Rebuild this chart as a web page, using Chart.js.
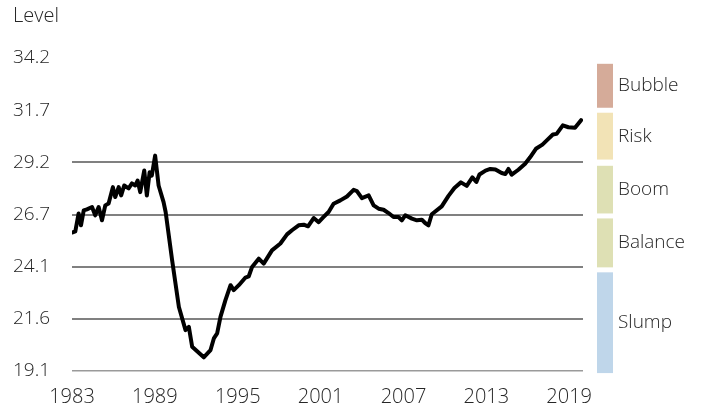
<!DOCTYPE html>
<html>
<head>
<meta charset="utf-8">
<script src="https://cdn.jsdelivr.net/npm/chart.js@4/dist/chart.umd.min.js"></script>
<style>
  html, body { margin: 0; padding: 0; background: #fff; }
  #wrap { width: 706px; height: 410px; }
</style>
</head>
<body>
<div id="wrap"><canvas id="chart"></canvas></div>
<script>
// values
const years = [
  1983.00, 1983.24, 1983.48, 1983.65, 1983.85, 1984.08, 1984.45, 1984.68, 1984.93, 1985.17,
  1985.41, 1985.65, 1985.96, 1986.13, 1986.38, 1986.56, 1986.78, 1987.10, 1987.34, 1987.58,
  1987.75, 1987.94, 1988.23, 1988.42, 1988.62, 1988.78, 1989.02, 1989.27, 1989.63, 1989.78,
  1990.25, 1990.74, 1991.22, 1991.46, 1991.70, 1992.54, 1993.03, 1993.27, 1993.51, 1993.75,
  1994.11, 1994.48, 1994.71, 1995.08, 1995.56, 1995.80, 1996.04, 1996.52, 1996.88, 1997.48,
  1998.09, 1998.57, 1998.93, 1999.41, 1999.78, 2000.09, 2000.50, 2000.86, 2001.22, 2001.58,
  2001.94, 2002.43, 2002.91, 2003.39, 2003.63, 2003.99, 2004.48, 2004.84, 2005.20, 2005.56,
  2005.92, 2006.28, 2006.64, 2006.88, 2007.13, 2007.61, 2007.97, 2008.33, 2008.57, 2008.81,
  2009.05, 2009.77, 2010.26, 2010.69, 2011.16, 2011.58, 2011.99, 2012.28, 2012.50, 2012.94,
  2013.29, 2013.66, 2014.11, 2014.38, 2014.60, 2014.84, 2015.32, 2015.81, 2016.17, 2016.59,
  2017.06, 2017.49, 2017.82, 2018.09, 2018.54, 2018.94, 2019.42, 2019.86
];
const levels = [
  25.78, 25.84, 26.70, 26.13, 26.85, 26.90, 27.01, 26.61, 27.01, 26.37,
  27.09, 27.18, 27.97, 27.49, 27.97, 27.57, 28.05, 27.91, 28.15, 28.05,
  28.29, 27.73, 28.77, 27.57, 28.69, 28.53, 29.49, 28.05, 27.25, 26.77,
  24.44, 22.19, 21.07, 21.23, 20.27, 19.76, 20.11, 20.67, 20.91, 21.71,
  22.52, 23.24, 23.00, 23.24, 23.61, 23.67, 24.12, 24.52, 24.28, 24.92,
  25.25, 25.69, 25.89, 26.13, 26.16, 26.08, 26.48, 26.28, 26.53, 26.77,
  27.17, 27.33, 27.52, 27.84, 27.78, 27.44, 27.57, 27.09, 26.93, 26.88,
  26.72, 26.53, 26.53, 26.37, 26.61, 26.45, 26.37, 26.40, 26.24, 26.13,
  26.66, 27.04, 27.55, 27.93, 28.20, 28.03, 28.44, 28.22, 28.58, 28.77,
  28.85, 28.82, 28.65, 28.60, 28.85, 28.57, 28.81, 29.10, 29.41, 29.82,
  30.02, 30.30, 30.51, 30.54, 30.95, 30.86, 30.83, 31.20
];

const xTickYears = [1983, 1989, 1995, 2001, 2007, 2013, 2019];
const yTickLabels = ['19.1', '21.6', '24.1', '26.7', '29.2', '31.7', '34.2'];

const bandLabels = ['Slump', 'Balance', 'Boom', 'Risk', 'Bubble'];
const bandLow = [19.0, 24.1, 26.7, 29.3, 31.8];
const bandHigh = [23.86, 26.46, 29.0, 31.56, 33.92];
const bandColors = ['#bfd6ea', '#dee0b4', '#dee0b4', '#f2e3b6', '#d5ab99'];

const yMin = 19.1, yMax = 34.2;
const FONT = '"Open Sans", "Noto Sans", sans-serif';
const TXT = '#262626';

// legend-like side bands, placed with the y scale
const bandsPlugin = {
  id: 'bands',
  afterDraw(chart) {
    const ctx = chart.ctx, y = chart.scales.y;
    ctx.save();
    ctx.font = '300 19px ' + FONT;
    ctx.textBaseline = 'middle';
    ctx.textAlign = 'left';
    bandLabels.forEach((lab, i) => {
      const top = y.getPixelForValue(bandHigh[i]);
      const bot = y.getPixelForValue(bandLow[i]);
      ctx.fillStyle = bandColors[i];
      ctx.fillRect(597, top, 16, bot - top);
      ctx.fillStyle = TXT;
      ctx.fillText(lab, 618, (top + bot) / 2);
    });
    ctx.restore();
  }
};

const ctx = document.getElementById('chart').getContext('2d');
new Chart(ctx, {
  type: 'line',
  data: {
    datasets: [{
      label: 'Level',
      data: years.map((yr, i) => ({ x: yr, y: levels[i] })),
      borderColor: '#000',
      borderWidth: 4,
      borderJoinStyle: 'round',
      borderCapStyle: 'round',
      pointRadius: 0,
      tension: 0,
      fill: false
    }]
  },
  options: {
    responsive: true,
    maintainAspectRatio: false,
    animation: false,
    layout: { padding: { left: 13, right: 123, top: 0, bottom: 0 } },
    scales: {
      x: {
        type: 'linear',
        min: 1983,
        max: 2020,
        afterBuildTicks: s => { s.ticks = xTickYears.map(v => ({ value: v })); },
        afterFit: s => { s.height = 39; },
        grid: { display: false, drawTicks: false },
        border: { display: false },
        ticks: {
          padding: 14,
          maxRotation: 0,
          autoSkip: false,
          color: TXT,
          font: { family: FONT, size: 20, weight: 300 },
          callback: v => String(v)
        }
      },
      y: {
        min: yMin,
        max: yMax,
        afterBuildTicks: s => {
          s.ticks = yTickLabels.map((_, i) => ({ value: yMin + i * (yMax - yMin) / 6 }));
        },
        afterFit: s => { s.width = 59; },
        grid: {
          drawTicks: false,
          color: c => c.index === 0 ? '#9a9a9a' : (c.index <= 4 ? '#808080' : 'rgba(0,0,0,0)'),
          lineWidth: c => c.index === 0 ? 1.5 : 2
        },
        border: { display: false },
        ticks: {
          crossAlign: 'far',
          padding: 0,
          color: TXT,
          font: { family: FONT, size: 19, weight: 300 },
          callback: (v, i) => yTickLabels[i]
        }
      }
    },
    plugins: {
      legend: { display: false },
      tooltip: { enabled: false },
      title: {
        display: true,
        text: 'Level',
        align: 'start',
        color: TXT,
        font: { family: FONT, size: 20, weight: 300 },
        padding: { top: 4, bottom: 30 }
      }
    }
  },
  plugins: [bandsPlugin]
});
</script>
</body>
</html>
